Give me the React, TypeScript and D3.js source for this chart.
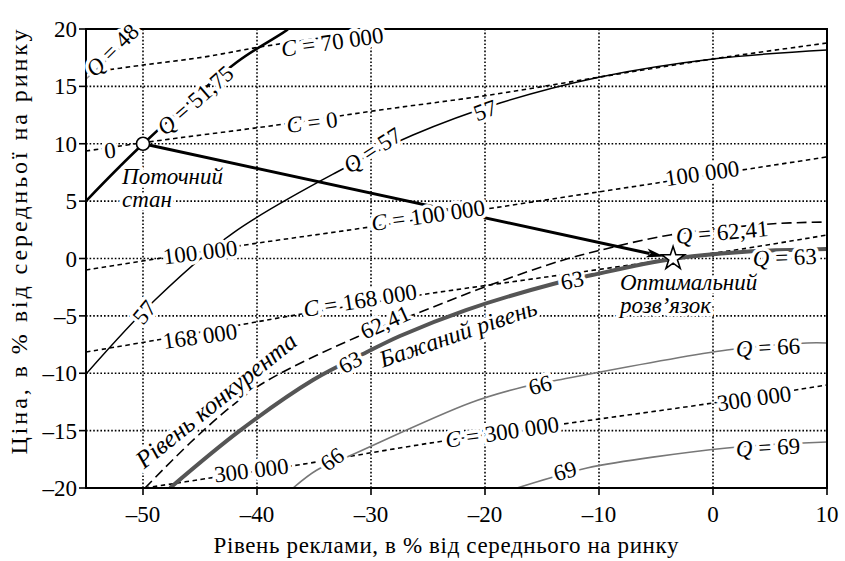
import React from 'react';
import * as d3 from 'd3';

type Pt = [number, number];

const xTicks = [-50, -40, -30, -20, -10, 0, 10];
const yTicks = [-20, -15, -10, -5, 0, 5, 10, 15, 20];

// iso-quantity lines Q (advertising %, price %)
const q48: Pt[] = [[-55, 15.64], [-51.05, 19.22], [-50.18, 20.0]];
const q5175: Pt[] = [[-55, 5.01], [-50, 9.98], [-41.75, 17.12], [-37.37, 19.91], [-37.2, 20.1]];
const q57: Pt[] = [[-55, -10.07], [-48.95, -3.62], [-42.11, 2.22], [-32.98, 7.54], [-26.32, 10.76], [-18.68, 13.55], [-9.91, 15.82], [0, 17.39], [10, 18.17]];
const q6241: Pt[] = [[-49.82, -20.0], [-45.88, -16.08], [-42.11, -12.77], [-39.2, -10.7], [-31.23, -6.84], [-25.44, -4.58], [-19.56, -2.31], [-13.42, -0.22], [-10.18, 0.65], [-3.77, 2.05], [5.0, 3.01], [10, 3.18]];
const q63: Pt[] = [[-47.63, -20.0], [-41.5, -15.0], [-35.09, -10.59], [-30.35, -8.15], [-27.46, -6.75], [-21.67, -4.49], [-14.04, -2.22], [-10.61, -1.44], [-3.6, -0.04], [2.54, 0.57], [10, 0.83]];
const q66: Pt[] = [[-36.84, -20.0], [-34.74, -18.43], [-32.11, -17.3], [-21.32, -12.59], [-16.67, -11.2], [-13.6, -10.59], [1.23, -7.97], [8.25, -7.36], [10, -7.36]];
const q69: Pt[] = [[-17.19, -20.0], [-14.3, -19.13], [-11.05, -18.25], [1.23, -16.51], [10, -15.99]];

// iso-cost lines C
const c70k: Pt[] = [[-55, 16.17], [-50, 16.86], [-44.65, 17.56], [-39.74, 18.43], [-28.86, 20.0]];
const c0: Pt[] = [[-55, 9.37], [-49.56, 10.15], [-38.25, 11.63], [-29.21, 12.94], [-19.56, 14.25], [-9.91, 15.82], [0, 17.39], [10, 18.78]];
const c100k: Pt[] = [[-55, -1.0], [-41.05, 1.18], [-30.7, 2.66], [-19.3, 4.4], [-4.91, 6.58], [10, 8.85]];
const c168k: Pt[] = [[-55, -8.15], [-48.77, -7.1], [-41.05, -5.71], [-37.11, -5.01], [-25.7, -3.18], [-14.04, -1.53], [-3.6, -0.04], [2.54, 0.83], [10, 2.05]];
const c300k: Pt[] = [[-49.82, -20.0], [-44.12, -19.13], [-36.4, -17.99], [-24.21, -15.99], [-12.54, -14.34], [0, -12.59], [10, -11.02]];

const currentPoint: Pt = [-50, 10];
const optimumPoint: Pt = [-3.5, 0];

const curveLabels: { text: string; at: Pt; rot: number }[] = [
  { text: 'Q = 48', at: [-52.72, 18.17], rot: -45 },
  { text: 'C = 70 000', at: [-33.4, 18.9], rot: -8 },
  { text: 'Q = 51,75', at: [-45.44, 13.81], rot: -41 },
  { text: '0', at: [-52.9, 9.46], rot: -7 },
  { text: 'C = 0', at: [-35.18, 11.9], rot: -7 },
  { text: 'Q = 57', at: [-29.9, 9.46], rot: -33 },
  { text: '57', at: [-20.0, 12.94], rot: -20 },
  { text: '57', at: [-49.9, -4.66], rot: -50 },
  { text: '100 000', at: [-45, 0.57], rot: -7 },
  { text: 'C = 100 000', at: [-25, 3.79], rot: -8 },
  { text: '100 000', at: [-0.96, 7.45], rot: -8 },
  { text: '168 000', at: [-45, -6.75], rot: -8 },
  { text: 'C = 168 000', at: [-30.96, -3.62], rot: -9 },
  { text: '62,41', at: [-28.77, -5.53], rot: -24 },
  { text: 'Q = 62,41', at: [0.79, 2.31], rot: -5 },
  { text: '63', at: [-31.84, -9.02], rot: -28 },
  { text: '63', at: [-12.37, -1.87], rot: -12 },
  { text: 'Q = 63', at: [6.3, 0.13], rot: -2 },
  { text: '66', at: [-33.42, -17.47], rot: -35 },
  { text: '66', at: [-15.18, -11.0], rot: -15 },
  { text: 'Q = 66', at: [4.82, -7.71], rot: -3 },
  { text: '300 000', at: [-40.5, -18.43], rot: -7 },
  { text: 'C = 300 000', at: [-18.5, -15.1], rot: -8 },
  { text: '300 000', at: [3.6, -12.16], rot: -8 },
  { text: '69', at: [-12.98, -18.5], rot: -15 },
  { text: 'Q = 69', at: [4.82, -16.43], rot: -3 },
];

const FONT = "'Liberation Serif', 'Times New Roman', 'DejaVu Serif', serif";

const App = () => {
  const width = 845;
  const height = 561;

  const x = d3.scaleLinear().domain([-55, 10]).range([86, 827]);
  const y = d3.scaleLinear().domain([-20, 20]).range([488, 29]);

  const line = d3.line<Pt>()
    .x(d => x(d[0]))
    .y(d => y(d[1]))
    .curve(d3.curveCatmullRom.alpha(0.5));

  const curves = [
    { pts: c70k, stroke: '#000', w: 1.6, dash: '4.5,3.5' },
    { pts: c0, stroke: '#000', w: 1.6, dash: '4.5,3.5' },
    { pts: c100k, stroke: '#000', w: 1.6, dash: '4.5,3.5' },
    { pts: c168k, stroke: '#000', w: 1.6, dash: '4.5,3.5' },
    { pts: c300k, stroke: '#000', w: 1.6, dash: '4.5,3.5' },
    { pts: q48, stroke: '#999', w: 1.6, dash: null },
    { pts: q57, stroke: '#000', w: 1.5, dash: null },
    { pts: q66, stroke: '#777', w: 1.6, dash: null },
    { pts: q69, stroke: '#777', w: 1.6, dash: null },
    { pts: q6241, stroke: '#000', w: 1.6, dash: '10,5' },
    { pts: q63, stroke: '#555', w: 4, dash: null },
    { pts: q5175, stroke: '#000', w: 2.6, dash: null },
  ];

  // arrow from current state to optimum
  const [sx, sy] = [x(currentPoint[0]), y(currentPoint[1])];
  const [ex, ey] = [x(optimumPoint[0]), y(optimumPoint[1])];
  const len = Math.hypot(ex - sx, ey - sy);
  const ux = (ex - sx) / len;
  const uy = (ey - sy) / len;
  const tipX = ex - ux * 9;
  const tipY = ey - uy * 9;
  const headL = 18;
  const headW = 4.5;
  const baseX = tipX - ux * headL;
  const baseY = tipY - uy * headL;
  const head = `M${tipX},${tipY} L${baseX - uy * headW},${baseY + ux * headW} L${baseX + ux * 4},${baseY + uy * 4} L${baseX + uy * headW},${baseY - ux * headW} Z`;

  const star = d3.symbol().type(d3.symbolStar).size(165)();

  const halo = { stroke: '#fff', strokeWidth: 7, paintOrder: 'stroke' as const, strokeLinejoin: 'round' as const };

  const renderLabel = (t: string) => {
    if (t.startsWith('Q ') || t.startsWith('C ')) {
      return (
        <>
          <tspan fontStyle="italic">{t[0]}</tspan>
          {t.slice(1)}
        </>
      );
    }
    return t;
  };

  const fmt = (t: number) => (t < 0 ? `–${-t}` : `${t}`);

  const cur = [x(-51.84), y(6.5)];
  const opt = [x(-8.16), y(-2.75)];
  const comp = [x(-43.6), y(-12.33)];
  const want = [x(-22.37), y(-6.49)];

  return (
    <svg width={width} height={height} style={{ position: 'absolute', left: 0, top: 0, background: '#fff', fontFamily: FONT }}>
      <defs>
        <clipPath id="plot">
          <rect x={x(-55)} y={y(20)} width={x(10) - x(-55)} height={y(-20) - y(20)} />
        </clipPath>
      </defs>
      <rect width={width} height={height} fill="#fff" />

      {/* grid */}
      <g stroke="#000" strokeWidth={1.6} strokeDasharray="1.6,2">
        {xTicks.filter(t => t < 10).map(t => (
          <line key={`gx${t}`} x1={x(t)} x2={x(t)} y1={y(20)} y2={y(-20)} />
        ))}
        {yTicks.filter(t => t > -20 && t < 20).map(t => (
          <line key={`gy${t}`} x1={x(-55)} x2={x(10)} y1={y(t)} y2={y(t)} />
        ))}
      </g>

      <g clipPath="url(#plot)" fill="none">
        {curves.map((c, i) => (
          <path key={i} d={line(c.pts) || ''} stroke={c.stroke} strokeWidth={c.w}
            strokeDasharray={c.dash || undefined} />
        ))}
        <line x1={sx + ux * 6} y1={sy + uy * 6} x2={baseX + ux * 3} y2={baseY + uy * 3} stroke="#000" strokeWidth={3} />
        <path d={head} fill="#000" />
      </g>

      {/* frame and ticks */}
      <rect x={x(-55)} y={y(20)} width={x(10) - x(-55)} height={y(-20) - y(20)} fill="none" stroke="#000" strokeWidth={2} />
      <g stroke="#000" strokeWidth={1.6}>
        {xTicks.map(t => <line key={`tx${t}`} x1={x(t)} x2={x(t)} y1={y(-20)} y2={y(-20) + 7} />)}
        {yTicks.map(t => <line key={`ty${t}`} x1={x(-55)} x2={x(-55) - 7} y1={y(t)} y2={y(t)} />)}
      </g>

      {/* curve labels */}
      <g textAnchor="middle" fill="#000" style={{ fontFamily: FONT, fontSize: 23 }}>
        {curveLabels.map((l, i) => {
          const px = x(l.at[0]);
          const py = y(l.at[1]);
          return (
            <text key={i} x={px} y={py} dy="0.35em" transform={`rotate(${l.rot},${px},${py})`} {...halo}>
              {renderLabel(l.text)}
            </text>
          );
        })}
      </g>

      {/* annotations */}
      <g fill="#000" style={{ fontFamily: FONT, fontSize: 23, fontStyle: 'italic' }}>
        <text x={cur[0]} y={cur[1]} {...halo}>
          <tspan x={cur[0]}>Поточний</tspan>
          <tspan x={cur[0]} dy={23}>стан</tspan>
        </text>
        <text x={opt[0]} y={opt[1]} {...halo}>
          <tspan x={opt[0]}>Оптимальний</tspan>
          <tspan x={opt[0]} dy={23}>розв’язок</tspan>
        </text>
        <text x={comp[0]} y={comp[1]} dy="0.35em" textAnchor="middle" style={{ fontSize: 25 }}
          transform={`rotate(-39,${comp[0]},${comp[1]})`} {...halo}>Рівень конкурента</text>
        <text x={want[0]} y={want[1]} dy="0.35em" textAnchor="middle" style={{ fontSize: 24 }}
          transform={`rotate(-19,${want[0]},${want[1]})`} {...halo}>Бажаний рівень</text>
      </g>

      {/* markers */}
      <circle cx={sx} cy={sy} r={6.5} fill="#fff" stroke="#000" strokeWidth={1.6} />
      <path d={star || ''} transform={`translate(${ex},${ey})`} fill="#fff" stroke="#000" strokeWidth={1.6} />

      {/* tick labels */}
      <g fill="#000" style={{ fontFamily: FONT, fontSize: 23 }}>
        {xTicks.map(t => (
          <text key={`lx${t}`} x={x(t)} y={522} textAnchor="middle">{fmt(t)}</text>
        ))}
        {yTicks.map(t => (
          <text key={`ly${t}`} x={x(-55) - 9} y={y(t)} dy="0.35em" textAnchor="end">{fmt(t)}</text>
        ))}
      </g>

      {/* axis titles */}
      <g fill="#000" style={{ fontFamily: FONT, fontSize: 23 }}>
        <text x={446} y={553} textAnchor="middle" textLength={465} lengthAdjust="spacing">
          Рівень реклами, в % від середнього на ринку
        </text>
        <text transform={`translate(27,${242}) rotate(-90)`} textAnchor="middle" textLength={425}
          lengthAdjust="spacing" style={{ fontSize: 24 }}>
          Ціна, в % від середньої на ринку
        </text>
      </g>
    </svg>
  );
};

export default App;
